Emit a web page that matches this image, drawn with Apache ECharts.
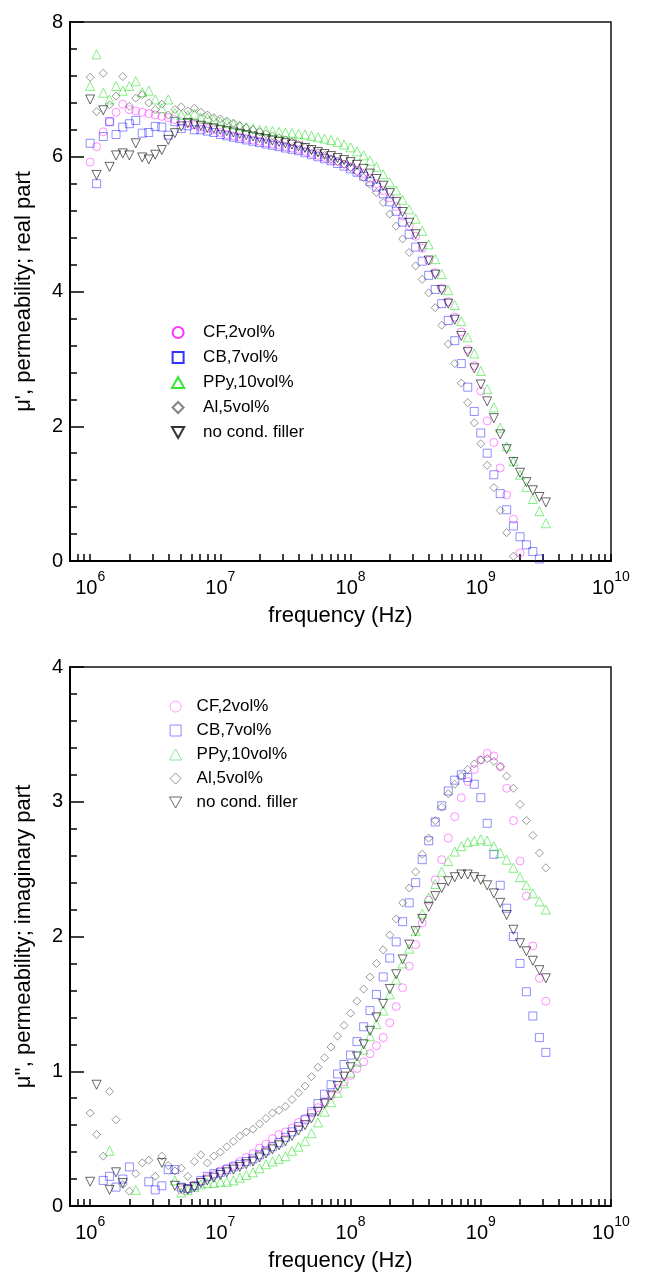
<!DOCTYPE html>
<html>
<head>
<meta charset="utf-8">
<script src="https://cdn.jsdelivr.net/npm/echarts@6.0.0/dist/echarts.min.js"></script>
<style>
  html, body { margin: 0; padding: 0; background: #fff; }
  #chart { width: 645px; height: 1273px; }
</style>
</head>
<body>
<div id="chart"></div>
<script>
// frequency grid in MHz (shared by every series)
var freqMHz = [
  1, 1.12, 1.26, 1.41, 1.58, 1.78, 2, 2.24, 2.51, 2.82,
  3.16, 3.55, 3.98, 4.47, 5.01, 5.62, 6.31, 7.08, 7.94, 8.91,
  10, 11.2, 12.6, 14.1, 15.8, 17.8, 20, 22.4, 25.1, 28.2,
  31.6, 35.5, 39.8, 44.7, 50.1, 56.2, 63.1, 70.8, 79.4, 89.1,
  100, 112, 126, 141, 158, 178, 200, 224, 251, 282,
  316, 355, 398, 447, 501, 562, 631, 708, 794, 891,
  1000, 1120, 1260, 1410, 1580, 1780, 2000, 2240, 2510, 2820,
  3160
];

var seriesNames = ['CF,2vol%', 'CB,7vol%', 'PPy,10vol%', 'Al,5vol%', 'no cond. filler'];

// mu' (real part)
var muRealCF = [
  5.92, 6.15, 6.37, 6.52, 6.66, 6.78, 6.70, 6.68, 6.66, 6.64,
  6.62, 6.60, 6.58, 6.55, 6.52, 6.50, 6.47, 6.44, 6.42, 6.40,
  6.36, 6.33, 6.31, 6.29, 6.27, 6.25, 6.23, 6.21, 6.19, 6.17,
  6.15, 6.13, 6.11, 6.08, 6.05, 6.02, 5.99, 5.96, 5.93, 5.89,
  5.85, 5.80, 5.75, 5.68, 5.60, 5.50, 5.39, 5.26, 5.12, 4.97,
  4.82, 4.64, 4.46, 4.28, 4.05, 3.85, 3.62, 3.40, 3.14, 2.90,
  2.52, 2.08, 1.76, 1.38, 0.98, 0.62, 0.12, null, null, null,
  null
];
var muRealCB = [
  6.20, 5.60, 6.30, 6.52, 6.33, 6.44, 6.49, 6.54, 6.35, 6.36,
  6.45, 6.44, 6.32, 6.52, 6.42, 6.46, 6.40, 6.40, 6.38, 6.36,
  6.33, 6.31, 6.29, 6.27, 6.25, 6.23, 6.21, 6.19, 6.17, 6.15,
  6.13, 6.11, 6.09, 6.06, 6.03, 6.00, 5.97, 5.94, 5.90, 5.86,
  5.82, 5.77, 5.71, 5.63, 5.55, 5.45, 5.33, 5.19, 5.03, 4.85,
  4.66, 4.45, 4.24, 4.03, 3.82, 3.57, 3.27, 2.93, 2.58, 2.22,
  1.90, 1.60, 1.28, 1.00, 0.76, 0.52, 0.36, 0.24, 0.14, 0.03,
  null
];
var muRealPPy = [
  7.05, 7.52, 6.95, 6.85, 7.05, 6.98, 7.05, 7.12, 6.96, 6.98,
  6.85, 6.72, 6.85, 6.65, 6.62, 6.62, 6.64, 6.58, 6.58, 6.55,
  6.52, 6.50, 6.48, 6.46, 6.44, 6.42, 6.40, 6.39, 6.38, 6.37,
  6.36, 6.35, 6.34, 6.33, 6.31, 6.29, 6.27, 6.25, 6.22, 6.18,
  6.14, 6.08, 6.02, 5.94, 5.85, 5.74, 5.62, 5.50, 5.36, 5.22,
  5.08, 4.90, 4.70, 4.48, 4.26, 4.02, 3.80, 3.56, 3.32, 3.08,
  2.82, 2.55, 2.28, 1.98, 1.70, 1.48, 1.28, 1.10, 0.92, 0.74,
  0.56
];
var muRealAl = [
  7.18, 6.67, 7.24, 6.77, 6.90, 7.19, 6.75, 6.87, 6.92, 6.80,
  6.70, 6.78, 6.62, 6.70, 6.74, 6.68, 6.72, 6.66, 6.62, 6.58,
  6.56, 6.53, 6.50, 6.46, 6.43, 6.40, 6.37, 6.34, 6.31, 6.28,
  6.25, 6.22, 6.18, 6.14, 6.11, 6.06, 6.02, 5.97, 5.93, 5.89,
  5.84, 5.77, 5.69, 5.59, 5.47, 5.32, 5.15, 4.97, 4.78, 4.58,
  4.38, 4.18, 3.98, 3.76, 3.50, 3.22, 2.93, 2.64, 2.35, 2.05,
  1.74, 1.42, 1.09, 0.75, 0.42, 0.07, null, null, null, null,
  null
];
var muRealNone = [
  6.85, 5.73, 6.69, 5.85, 6.02, 6.05, 6.02, 6.20, 5.99, 5.96,
  6.03, 6.10, 6.25, 6.35, 6.45, 6.50, 6.48, 6.46, 6.43, 6.42,
  6.40, 6.38, 6.36, 6.34, 6.32, 6.30, 6.28, 6.26, 6.24, 6.22,
  6.20, 6.18, 6.15, 6.13, 6.10, 6.07, 6.04, 6.01, 5.98, 5.95,
  5.92, 5.88, 5.82, 5.75, 5.67, 5.57, 5.46, 5.33, 5.18, 5.02,
  4.85, 4.66, 4.46, 4.25, 4.02, 3.82, 3.58, 3.34, 3.10, 2.86,
  2.62, 2.37, 2.12, 1.88, 1.66, 1.47, 1.31, 1.17, 1.05, 0.95,
  0.87
];

// mu'' (imaginary part)
var muImagCF = [
  null, null, null, null, null, null, null, null, null, null,
  null, null, null, null, 0.12, 0.13, 0.15, 0.18, 0.21, 0.23,
  0.26, 0.28, 0.30, 0.33, 0.36, 0.39, 0.43, 0.46, 0.50, 0.53,
  0.55, 0.58, 0.62, 0.65, 0.69, 0.73, 0.77, 0.82, 0.87, 0.92,
  0.97, 1.02, 1.07, 1.13, 1.19, 1.25, 1.36, 1.48, 1.62, 1.78,
  1.94, 2.10, 2.27, 2.42, 2.57, 2.73, 2.89, 3.03, 3.15, 3.24,
  3.31, 3.36, 3.34, 3.26, 3.10, 2.86, 2.56, 2.30, 1.93, 1.69,
  1.52
];
var muImagCB = [
  null, null, 0.19, 0.22, 0.14, 0.20, 0.29, null, null, 0.18,
  0.12, 0.15, 0.27, 0.27, 0.14, 0.13, 0.15, 0.19, 0.22, 0.24,
  0.25, 0.27, 0.29, 0.31, 0.33, 0.35, 0.38, 0.41, 0.44, 0.47,
  0.51, 0.55, 0.59, 0.64, 0.70, 0.76, 0.83, 0.90, 0.98, 1.05,
  1.12, 1.22, 1.33, 1.45, 1.57, 1.70, 1.84, 1.96, 2.11, 2.25,
  2.40, 2.57, 2.71, 2.85, 2.97, 3.08, 3.16, 3.20, 3.18, 3.13,
  3.03, 2.84, 2.61, 2.38, 2.21, 2.00, 1.80, 1.59, 1.41, 1.25,
  1.14
];
var muImagPPy = [
  null, null, null, 0.41, null, null, null, 0.12, null, null,
  null, null, null, 0.19, 0.10, 0.12, 0.14, 0.16, 0.17, 0.17,
  0.18, 0.18, 0.19, 0.21, 0.23, 0.25, 0.28, 0.31, 0.33, 0.35,
  0.37, 0.41, 0.44, 0.48, 0.54, 0.62, 0.70, 0.77, 0.84, 0.91,
  0.99, 1.07, 1.16, 1.26, 1.35, 1.45, 1.57, 1.68, 1.80, 1.91,
  2.04, 2.17, 2.29, 2.39, 2.48, 2.56, 2.63, 2.67, 2.70, 2.71,
  2.72, 2.71, 2.67, 2.62, 2.57, 2.51, 2.44, 2.38, 2.32, 2.26,
  2.20
];
var muImagAl = [
  0.69, 0.53, 0.37, 0.85, 0.64, 0.16, 0.11, 0.24, 0.32, 0.34,
  0.22, 0.37, 0.30, 0.26, 0.28, 0.22, 0.33, 0.38, 0.32, 0.37,
  0.40, 0.44, 0.48, 0.52, 0.55, 0.57, 0.61, 0.65, 0.69, 0.71,
  0.74, 0.79, 0.84, 0.89, 0.96, 1.03, 1.10, 1.18, 1.26, 1.34,
  1.43, 1.52, 1.61, 1.70, 1.80, 1.90, 2.01, 2.13, 2.25, 2.36,
  2.48, 2.61, 2.73, 2.86, 2.96, 3.06, 3.13, 3.19, 3.24, 3.28,
  3.31, 3.32, 3.30, 3.26, 3.19, 3.10, 2.98, 2.86, 2.75, 2.62,
  2.51
];
var muImagNone = [
  0.18, 0.90, null, 0.12, 0.25, 0.17, null, null, null, null,
  null, 0.32, null, 0.15, 0.13, 0.12, 0.14, 0.17, 0.19, 0.21,
  0.23, 0.25, 0.27, 0.29, 0.31, 0.33, 0.36, 0.39, 0.42, 0.45,
  0.48, 0.52, 0.56, 0.60, 0.65, 0.70, 0.76, 0.82, 0.89, 0.96,
  1.03, 1.11, 1.20, 1.30, 1.40, 1.50, 1.61, 1.72, 1.83, 1.94,
  2.04, 2.13, 2.22, 2.30, 2.36, 2.41, 2.44, 2.46, 2.46, 2.44,
  2.42, 2.38, 2.32, 2.25, 2.16, 2.05, 1.95, 1.89, 1.82, 1.75,
  1.69
];

// axis ticks
var decadeTicks = [1e6, 1e7, 1e8, 1e9, 1e10];
var minorMults = [2, 3, 4, 5, 6, 7, 8, 9];
var extraLowTicks = [8e5, 9e5];

var FONT = '"Liberation Sans", Arial, Helvetica, sans-serif';
var downTri = 'path://M0,0L10,0L5,9Z';
// legend icons as paths so they keep their aspect ratio
var legendIcons = [
  'circle',
  'path://M0,0L10,0L10,10L0,10Z',
  'path://M5,0L10,9L0,9Z',
  'path://M5,0L10,5L5,10L0,5Z',
  downTri
];

var xTicks = extraLowTicks.slice();
decadeTicks.forEach(function (d, i) {
  xTicks.push(d);
  if (i < decadeTicks.length - 1) {
    minorMults.forEach(function (m) { xTicks.push(m * d); });
  }
});

function pts(vals) {
  var out = [];
  for (var i = 0; i < freqMHz.length; i++) {
    if (vals[i] != null) out.push([freqMHz[i] * 1e6, vals[i]]);
  }
  return out;
}

var symbols = ['circle', 'rect', 'triangle', 'diamond', downTri];
var symSizes = [8, 8, 9, 8, 9];
var dataColors = ['rgba(255,0,255,0.55)', 'rgba(0,0,255,0.55)', 'rgba(0,220,0,0.6)',
                  'rgba(60,60,60,0.65)', 'rgba(0,0,0,0.75)'];
var legendTopColors = ['#ff00ff', '#0000ff', '#00e000', '#666666', '#000000'];
var legendBotColors = ['#ff80ff', '#7070ff', '#70e070', '#777777', '#444444'];

function makeSeries(idx, vals, gridIdx) {
  return {
    type: 'scatter',
    name: seriesNames[idx],
    xAxisIndex: gridIdx,
    yAxisIndex: gridIdx,
    symbol: symbols[idx],
    symbolSize: symSizes[idx],
    itemStyle: { color: 'rgba(0,0,0,0)', borderColor: dataColors[idx], borderWidth: 1 },
    data: pts(vals),
    silent: true
  };
}

function xAxisFor(gridIdx) {
  return {
    type: 'log',
    gridIndex: gridIdx,
    logBase: 10,
    min: 7e5,
    max: 1e10,
    axisLine: { show: true, lineStyle: { color: '#000', width: 2 } },
    axisTick: { show: true, inside: true, length: 7, customValues: xTicks,
                lineStyle: { color: '#000', width: 1.5 } },
    minorTick: { show: false },
    splitLine: { show: false },
    axisLabel: {
      customValues: decadeTicks,
      margin: 9,
      formatter: function (v) {
        return '{b|10}{s|' + Math.round(Math.log10(v)) + '}';
      },
      rich: {
        b: { fontSize: 20, lineHeight: 28, verticalAlign: 'bottom', fontFamily: FONT, color: '#000' },
        s: { fontSize: 14, lineHeight: 14, verticalAlign: 'top', fontFamily: FONT, color: '#000' }
      }
    },
    name: 'frequency (Hz)',
    nameLocation: 'middle',
    nameGap: 44,
    nameTextStyle: { fontSize: 22, fontFamily: FONT, color: '#000' }
  };
}

function yAxisFor(gridIdx, max, interval, name) {
  return {
    type: 'value',
    gridIndex: gridIdx,
    min: 0,
    max: max,
    interval: interval,
    axisLine: { show: true, lineStyle: { color: '#000', width: 2 } },
    axisTick: { show: true, inside: true, length: 14, lineStyle: { color: '#000', width: 1.5 } },
    minorTick: { show: true, splitNumber: 5, length: 7, lineStyle: { color: '#000', width: 1.5 } },
    splitLine: { show: false },
    axisLabel: { fontSize: 20, margin: 7, color: '#000', fontFamily: FONT },
    name: name,
    nameLocation: 'middle',
    nameGap: 35,
    nameTextStyle: { fontSize: 22, fontFamily: FONT, color: '#000' }
  };
}

function legendFor(top, left, width, gap, colors, lineW) {
  return {
    orient: 'vertical',
    top: top,
    left: left,
    itemWidth: width,
    itemHeight: 11,
    itemGap: gap,
    selectedMode: false,
    textStyle: { fontSize: 17, lineHeight: 16, color: '#000', fontFamily: FONT },
    data: seriesNames.map(function (n, i) {
      return {
        name: n,
        icon: legendIcons[i],
        itemStyle: { color: 'rgba(0,0,0,0)', borderColor: colors[i], borderWidth: lineW }
      };
    })
  };
}

var chart = echarts.init(document.getElementById('chart'), null, { renderer: 'canvas' });
chart.setOption({
  animation: false,
  backgroundColor: '#fff',
  grid: [
    { left: 70, top: 22, width: 541, height: 539, show: true, borderColor: '#111', borderWidth: 1.5,
      backgroundColor: 'rgba(0,0,0,0)' },
    { left: 70, top: 667, width: 541, height: 539, show: true, borderColor: '#111', borderWidth: 1.5,
      backgroundColor: 'rgba(0,0,0,0)' }
  ],
  xAxis: [xAxisFor(0), xAxisFor(1)],
  yAxis: [
    yAxisFor(0, 8, 2, "\u03bc', permeability; real part"),
    yAxisFor(1, 4, 1, "\u03bc'', permeability; imaginary part")
  ],
  legend: [
    legendFor(319, 166, 40, 8, legendTopColors, 2),
    legendFor(693, 164, 32, 7, legendBotColors, 1)
  ],
  series: [
    makeSeries(0, muRealCF, 0),
    makeSeries(1, muRealCB, 0),
    makeSeries(2, muRealPPy, 0),
    makeSeries(3, muRealAl, 0),
    makeSeries(4, muRealNone, 0),
    makeSeries(0, muImagCF, 1),
    makeSeries(1, muImagCB, 1),
    makeSeries(2, muImagPPy, 1),
    makeSeries(3, muImagAl, 1),
    makeSeries(4, muImagNone, 1)
  ]
});
</script>
</body>
</html>
